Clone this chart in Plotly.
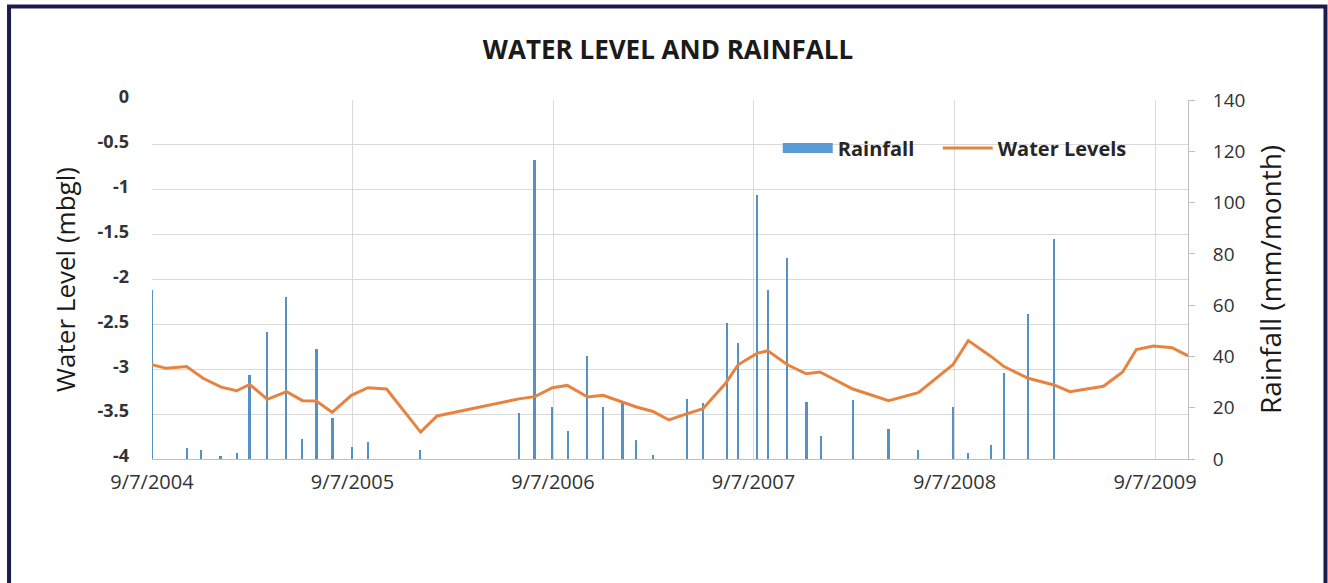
import plotly.graph_objects as go

rain_dates = ["2004-09-07","2004-11-10","2004-12-06","2005-01-10","2005-02-09","2005-03-04","2005-04-05",
              "2005-05-10","2005-06-08","2005-07-04","2005-08-02","2005-09-07","2005-10-06","2006-01-09",
              "2006-07-07","2006-08-05","2006-09-06","2006-10-05","2006-11-09","2006-12-08","2007-01-12",
              "2007-02-06","2007-03-08","2007-05-09","2007-06-07","2007-07-21","2007-08-10","2007-09-14",
              "2007-10-04","2007-11-08","2007-12-13","2008-01-08","2008-03-06","2008-05-10","2008-07-03",
              "2008-09-04","2008-10-02","2008-11-13","2008-12-06","2009-01-19","2009-03-07"]
rainfall = [66, 4.2, 3.5, 1, 2.2, 32.8, 49.7, 63.3, 7.8, 42.8, 15.9, 4.8, 6.8, 3.5,
            17.8, 116.6, 20.4, 11, 40.3, 20.4, 22.4, 7.4, 1.6, 23.4, 21.7, 52.9, 45.4, 103,
            65.9, 78.5, 22.4, 9.1, 23, 11.7, 3.5, 20.4, 2.2, 5.5, 33.4, 56.6, 85.8]

wl_dates = ["2004-09-07","2004-10-03","2004-11-09","2004-12-09","2005-01-11","2005-02-08","2005-03-04",
            "2005-04-05","2005-05-10","2005-06-08","2005-07-03","2005-08-01","2005-09-05","2005-10-05",
            "2005-11-08","2006-01-09","2006-02-08","2006-07-07","2006-08-05","2006-09-06","2006-10-03",
            "2006-11-09","2006-12-07","2007-01-12","2007-02-06","2007-03-08","2007-04-06","2007-05-07",
            "2007-06-07","2007-07-19","2007-08-10","2007-09-14","2007-10-03","2007-11-08","2007-12-12",
            "2008-01-06","2008-03-06","2008-05-10","2008-07-03","2008-09-04","2008-10-02","2008-11-13",
            "2008-12-06","2009-01-19","2009-03-07","2009-04-05","2009-06-05","2009-07-10","2009-08-04",
            "2009-09-04","2009-10-08","2009-11-06"]
water_levels = [-2.95, -2.99, -2.97, -3.10, -3.20, -3.24, -3.17, -3.335, -3.25, -3.35, -3.354, -3.48,
                -3.29, -3.205, -3.22, -3.70, -3.52, -3.33, -3.305, -3.205, -3.18, -3.31, -3.29, -3.37,
                -3.42, -3.47, -3.565, -3.50, -3.44, -3.15, -2.95, -2.82, -2.795, -2.95, -3.05, -3.03,
                -3.22, -3.35, -3.26, -2.95, -2.68, -2.86, -2.97, -3.10, -3.175, -3.25, -3.19, -3.03,
                -2.78, -2.74, -2.76, -2.85]

x_tick_vals = ["2004-09-07","2005-09-07","2006-09-07","2007-09-07","2008-09-07","2009-09-07"]
x_tick_text = ["9/7/2004","9/7/2005","9/7/2006","9/7/2007","9/7/2008","9/7/2009"]
wl_tick_vals = [-4, -3.5, -3, -2.5, -2, -1.5, -1, -0.5, 0]
wl_tick_text = ["-4", "-3.5", "-3", "-2.5", "-2", "-1.5", "-1", "-0.5", "0"]

FONT = "Open Sans"
BLUE = "#5B9BD5"
ORANGE = "#E8833F"
GRID = "#D9D9D9"

fig = go.Figure()
fig.add_trace(go.Bar(
    x=rain_dates, y=rainfall, name="Rainfall", yaxis="y",
    marker=dict(color="#5591C4", line=dict(width=0)),
    width=[3.2 * 86400000] * len(rain_dates), showlegend=False, legendgroup="rain"))
fig.add_trace(go.Scatter(
    x=[None], y=[None], name="Rainfall", mode="lines", yaxis="y",
    line=dict(color=BLUE, width=11), legendgroup="rain", legendwidth=95))
fig.add_trace(go.Scatter(
    x=wl_dates, y=water_levels, name="Water Levels", mode="lines", yaxis="y2",
    line=dict(color=ORANGE, width=3), legendwidth=150))

fig.update_layout(
    width=1328, height=583,
    margin=dict(l=152, r=140, t=100, b=124),
    paper_bgcolor="white", plot_bgcolor="white",
    font=dict(family=FONT, color="#333333"),
    title=dict(text="WATER LEVEL AND RAINFALL", x=0.503, xanchor="center", y=0.915, yanchor="middle",
               font=dict(family=FONT, size=26, color="#1a1a1a", weight="bold")),
    xaxis=dict(type="date", range=["2004-09-07", "2009-11-06"],
               tickvals=x_tick_vals, ticktext=x_tick_text,
               showgrid=True, gridcolor=GRID, gridwidth=1,
               showline=True, linecolor="#BFBFBF", linewidth=1,
               ticks="", ticklabelstandoff=5,
               tickfont=dict(size=20, color="#333333"), zeroline=False),
    yaxis=dict(side="right", range=[0, 140], dtick=20, tick0=0,
               showgrid=False, zeroline=False,
               showline=True, linecolor="#BFBFBF", linewidth=1,
               ticks="outside", ticklen=6, tickcolor="#BFBFBF",
               ticklabelstandoff=14,
               tickfont=dict(size=19, color="#333333"),
               title=dict(text="Rainfall (mm/month)", font=dict(size=28, color="#1a1a1a"), standoff=17)),
    yaxis2=dict(overlaying="y", side="left", range=[-4, 0],
                tickvals=wl_tick_vals, ticktext=wl_tick_text,
                showgrid=True, gridcolor=GRID, gridwidth=1, zeroline=False,
                showline=False, ticks="", ticklabelstandoff=22, ticklabelshift=-3,
                tickfont=dict(size=18, color="#333333", weight="bold"),
                title=dict(text="Water Level (mbgl)", font=dict(size=26, color="#1a1a1a"), standoff=14)),
    legend=dict(orientation="h", x=0.604, y=0.866, xanchor="left", yanchor="middle",
                font=dict(size=20, color="#262626", weight="bold"),
                bgcolor="rgba(0,0,0,0)", itemwidth=50, traceorder="normal"),
    shapes=[dict(type="rect", xref="paper", yref="paper",
                 x0=-0.138, x1=1.1327, y0=-0.37, y1=1.2604,
                 line=dict(color="#1C1C4C", width=4), fillcolor="rgba(0,0,0,0)", layer="above")],
    bargap=0,
)

fig.write_html("out.html", config={"displayModeBar": False},
               post_script="document.body.style.margin='0px';document.body.style.overflow='hidden';")
